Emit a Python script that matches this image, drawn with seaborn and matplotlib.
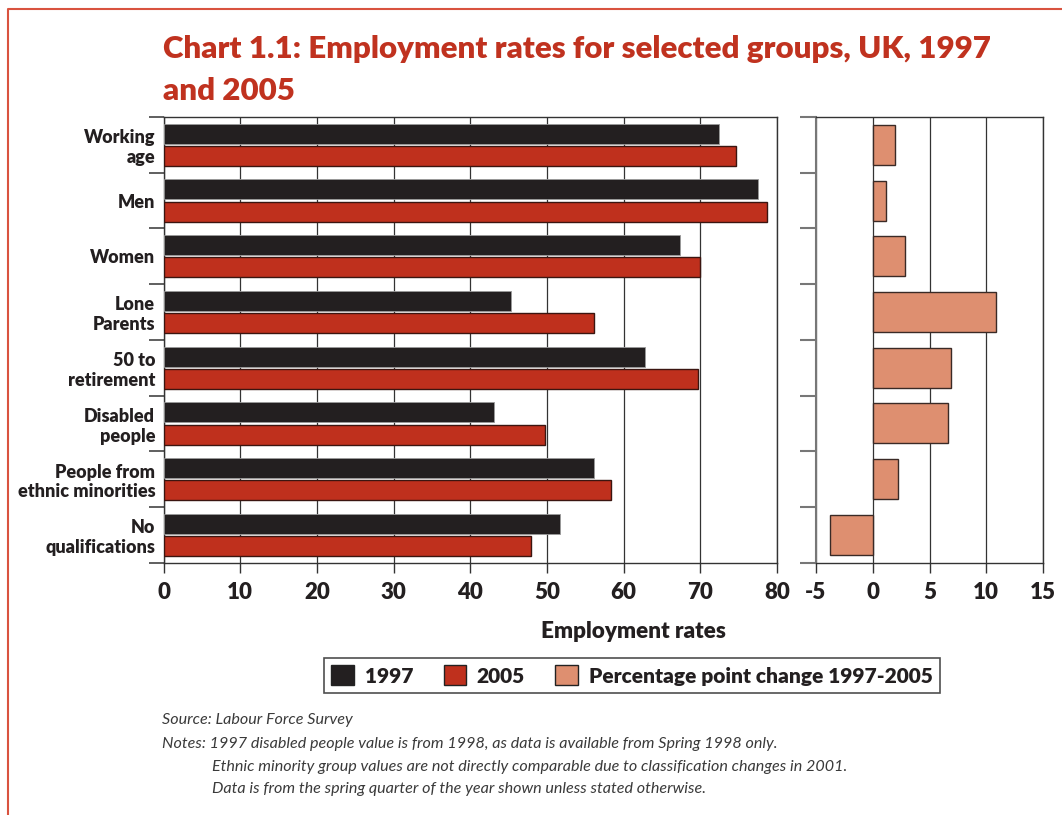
import numpy as np
import pandas as pd
import matplotlib
matplotlib.use("Agg")
import matplotlib.pyplot as plt
from matplotlib.patches import Patch
from matplotlib.lines import Line2D
import seaborn as sns

# ---- data -------------------------------------------------------------
groups = ["Working\nage", "Men", "Women", "Lone\nParents", "50 to\nretirement",
          "Disabled\npeople", "People from\nethnic minorities", "No\nqualifications"]
rate_1997 = [72.5, 77.5, 67.3, 45.3, 62.8, 43.1, 56.2, 51.7]
rate_2005 = [74.6, 78.7, 70.0, 56.2, 69.7, 49.7, 58.4, 47.9]
pp_change = [2.0, 1.2, 2.8, 10.9, 6.9, 6.6, 2.2, -3.8]
years = ["1997", "2005"]
rate_ticks = [0, 10, 20, 30, 40, 50, 60, 70, 80]
change_ticks = [-5, 0, 5, 10, 15]

BLACK = "#231f20"
RED = "#bf301d"
SALMON = "#de8f70"
TITLE_RED = "#c0321f"
FRAME_RED = "#d9533f"
INK = "#231f20"
HEAVY = "heavy"

sns.set_theme(style="white")
plt.rcParams["font.family"] = ["Lato", "DejaVu Sans"]

W, H = 1062, 815
fig = plt.figure(figsize=(W / 100, H / 100), dpi=100)


def fx(px):
    return px / W


def fy(py):
    return 1 - py / H


ax1 = fig.add_axes([fx(163.5), fy(562.7), fx(777) - fx(163.5), fy(117) - fy(562.7)])
ax2 = fig.add_axes([fx(816), fy(562.7), fx(1043) - fx(816), fy(117) - fy(562.7)])

# ---- left panel: employment rates by year -------------------------------
df = pd.DataFrame({
    "group": groups * 2,
    "year": [years[0]] * len(groups) + [years[1]] * len(groups),
    "rate": rate_1997 + rate_2005,
})
sns.barplot(data=df, x="rate", y="group", hue="year", order=groups, hue_order=years,
            palette=[BLACK, RED], orient="h", width=0.8, gap=0.1, saturation=1,
            legend=False, ax=ax1, zorder=3)
for bar in ax1.containers[0]:
    bar.set_edgecolor("#9a9a9a")
    bar.set_linewidth(0.6)
for bar in ax1.containers[1]:
    bar.set_edgecolor("#3b1510")
    bar.set_linewidth(1.0)

ax1.set_xlim(0, 80)
ax1.set_ylim(len(groups) - 0.5, -0.5)
ax1.set_xticks(rate_ticks)
ax1.set_xticklabels([str(t) for t in rate_ticks])
ax1.set_yticks(range(len(groups)))
ax1.set_yticklabels(groups)
ax1.set_yticks(np.arange(-0.5, len(groups), 1), minor=True)
ax1.set_xlabel("")
ax1.set_ylabel("")
ax1.xaxis.grid(True, color="#333333", linewidth=0.9, zorder=0)
ax1.set_axisbelow(True)
ax1.tick_params(axis="x", which="major", direction="out", length=7, width=1,
                color="#333333", labelsize=16, pad=7, labelcolor=INK, bottom=True)
ax1.tick_params(axis="y", which="major", length=0, pad=6, labelsize=13, labelcolor=INK)
ax1.tick_params(axis="y", which="minor", direction="out", length=11, width=1.2,
                color="#444444", left=True)
for lab in ax1.get_xticklabels() + ax1.get_yticklabels():
    lab.set_fontweight(HEAVY)
for sp in ax1.spines.values():
    sp.set_visible(True)
    sp.set_color("#333333")
    sp.set_linewidth(1.0)

# ---- right panel: percentage point change --------------------------------
sns.barplot(x=pp_change, y=groups, order=groups, orient="h", color=SALMON,
            width=0.72, saturation=1, edgecolor="#3a2a26", linewidth=1.0,
            ax=ax2, zorder=3)
ax2.set_xlim(-5, 15)
ax2.set_ylim(len(groups) - 0.5, -0.5)
ax2.set_xticks(change_ticks)
ax2.set_xticklabels([str(t) for t in change_ticks])
ax2.set_yticks([])
ax2.set_yticks(np.arange(-0.5, len(groups), 1), minor=True)
ax2.set_xlabel("")
ax2.set_ylabel("")
ax2.xaxis.grid(True, color="#333333", linewidth=0.9, zorder=0)
ax2.set_axisbelow(True)
ax2.tick_params(axis="x", which="major", direction="out", length=7, width=1,
                color="#333333", labelsize=16, pad=7, labelcolor=INK, bottom=True)
ax2.tick_params(axis="y", which="minor", direction="out", length=11.5, width=1.5,
                color="#777777", left=True)
for lab in ax2.get_xticklabels():
    lab.set_fontweight(HEAVY)
for name, sp in ax2.spines.items():
    sp.set_visible(True)
    sp.set_color("#777777" if name == "left" else "#333333")
    sp.set_linewidth(1.5 if name == "left" else 1.0)

# ---- shared axis label and legend ---------------------------------------
fig.text(fx(633), fy(631), "Employment rates", ha="center", va="center",
         fontsize=16.2, fontweight=HEAVY, color=INK)

handles = [Patch(facecolor=BLACK, edgecolor="#222222", linewidth=1, label="1997"),
           Patch(facecolor=RED, edgecolor="#222222", linewidth=1, label="2005"),
           Patch(facecolor=SALMON, edgecolor="#222222", linewidth=1,
                 label="Percentage point change 1997-2005")]
leg = fig.legend(handles=handles, loc="center", bbox_to_anchor=(fx(632), fy(675.5)),
                 ncol=3, frameon=True, fancybox=False, shadow=False,
                 prop={"size": 15, "weight": HEAVY}, handlelength=1.1,
                 handleheight=1.1, handletextpad=0.5, columnspacing=1.45,
                 borderpad=0.35, labelcolor=INK)
leg.get_frame().set_edgecolor("#222222")
leg.get_frame().set_linewidth(1.2)

# ---- title ---------------------------------------------------------------
fig.text(fx(163), fy(58), "Chart 1.1: Employment rates for selected groups, UK, 1997",
         ha="left", va="baseline", fontsize=22.5, fontweight=HEAVY, color=TITLE_RED)
fig.text(fx(163), fy(100), "and 2005", ha="left", va="baseline",
         fontsize=22.5, fontweight=HEAVY, color=TITLE_RED)

# ---- source and notes ----------------------------------------------------
note_kw = dict(ha="left", va="center", fontsize=11.6, style="italic",
               fontweight="normal", color="#3a3a3a")
fig.text(fx(162), fy(720), "Source: Labour Force Survey", **note_kw)
fig.text(fx(162), fy(744), "Notes: 1997 disabled people value is from 1998, as data is "
         "available from Spring 1998 only.", **note_kw)
fig.text(fx(212), fy(767), "Ethnic minority group values are not directly comparable "
         "due to classification changes in 2001.", **note_kw)
fig.text(fx(212), fy(789), "Data is from the spring quarter of the year shown unless "
         "stated otherwise.", **note_kw)

# ---- page frame ----------------------------------------------------------
fig.add_artist(Line2D([fx(7.5), fx(7.5), 1.0], [0.0, fy(8.5), fy(8.5)],
                      transform=fig.transFigure, color=FRAME_RED, linewidth=1.5))

fig.savefig("out.png", dpi=100)
